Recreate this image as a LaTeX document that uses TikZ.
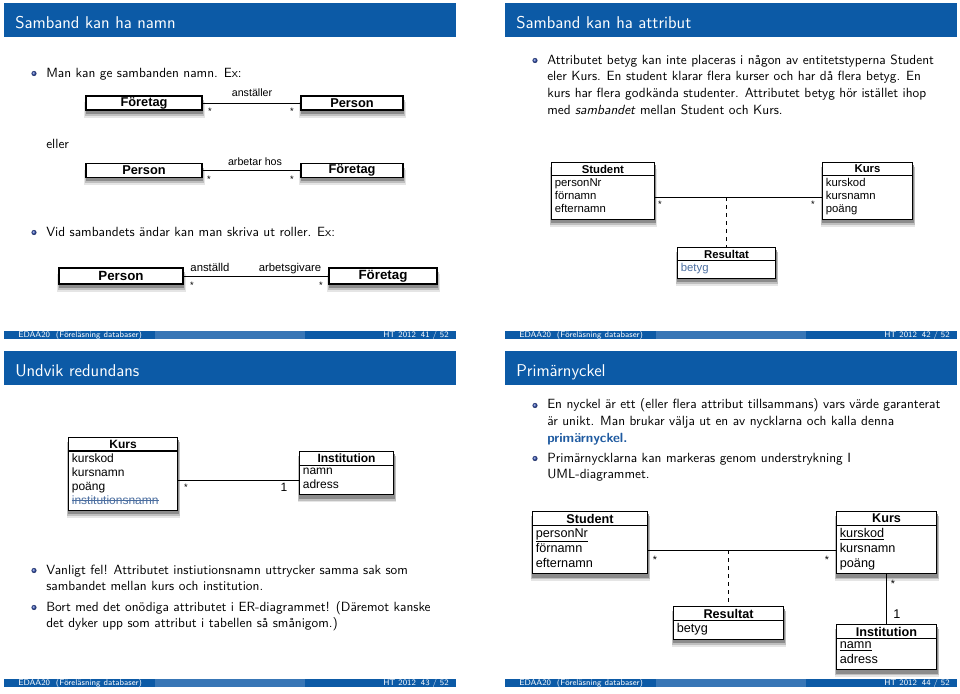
\documentclass[tikz,border=0pt]{standalone}
\usepackage{fontspec}
\renewcommand{\familydefault}{\sfdefault}
\newfontfamily\umlfont{Liberation Sans}
\usetikzlibrary{shapes.multipart}
\pgfdeclarelayer{bg}
\pgfsetlayers{bg,main}

\definecolor{titleblue}{RGB}{12,90,166}
\definecolor{footlight}{RGB}{56,118,182}
\definecolor{ballblue}{RGB}{40,70,170}
\definecolor{alertblue}{RGB}{30,90,160}
\definecolor{attrblue}{RGB}{75,110,160}

\tikzset{
  frametitle/.style={anchor=base west, text=white, inner sep=0pt, font=\fontsize{12.8}{15}\selectfont},
  foottext/.style={text=white, inner sep=0pt, font=\fontsize{6.2}{7}\selectfont},
  bodytext/.style={anchor=base west, inner sep=0pt, align=left, font=\fontsize{10}{12.5}\selectfont},
  itemball/.style={ball color=ballblue},
  entity/.style={draw, line width=0.95pt, fill=white, inner sep=1pt, minimum height=10.5pt,
    font=\umlfont\bfseries\fontsize{9.6}{11}\selectfont},
  classbox/.style={draw, line width=0.8pt, fill=white, anchor=north west,
    rectangle split, rectangle split parts=2, rectangle split part align={center,left},
    align=left, inner xsep=2.5pt, inner ysep=1.5pt},
  umlsmall/.style={font=\umlfont\fontsize{8.5}{10}\selectfont},
  umlmid/.style={font=\umlfont\fontsize{9}{10.5}\selectfont},
  umlbig/.style={font=\umlfont\fontsize{9.5}{11.3}\selectfont},
  assoc/.style={line width=0.7pt},
  rolelabel/.style={anchor=base, inner sep=0pt, font=\umlfont\fontsize{8}{9}\selectfont},
  mult/.style={anchor=base, inner sep=0pt, font=\umlfont\fontsize{7}{8}\selectfont},
}

% title bar, footline; #1 suffix for names, #2 title, #3 page
\newcommand{\slideframe}[3]{%
  \fill[titleblue] (4,3) rectangle (456,37);
  \node[frametitle] (title#1) at (15,28) {#2};
  \fill[titleblue] (4,331) rectangle (154.7,339);
  \fill[footlight] (154.7,331) rectangle (305.3,339);
  \fill[titleblue] (305.3,331) rectangle (456,339);
  \node[foottext, anchor=base west] (foot#1) at (18,337.5) {EDAA20\ \ (Föreläsning databaser)};
  \node[foottext, anchor=base west] (term#1) at (383,337.5) {HT 2012};
  \node[foottext, anchor=base east] (page#1) at (449,337.5) {#3 / 52};
}
% soft shadow under a box
\newcommand{\boxshadow}[1]{%
  \begin{pgfonlayer}{bg}
    \fill[black!10] ([xshift=-1pt,yshift=-5.2pt]#1.north west) rectangle ([xshift=1.8pt,yshift=-5.2pt]#1.south east);
    \fill[black!25] ([xshift=-0.4pt,yshift=-3.8pt]#1.north west) rectangle ([xshift=1.2pt,yshift=-3.8pt]#1.south east);
    \fill[black!45] ([xshift=0.2pt,yshift=-2.4pt]#1.north west) rectangle ([xshift=0.6pt,yshift=-2.4pt]#1.south east);
  \end{pgfonlayer}}
\newcommand{\rowgap}{\rule[-3pt]{0pt}{0pt}}
\newsavebox{\strikebox}
\newcommand{\strikeword}[1]{\sbox{\strikebox}{#1}\rlap{\rule[0.3em]{\wd\strikebox}{0.5pt}}\usebox{\strikebox}}

\begin{document}
\begin{tikzpicture}[x=0.75pt, y=-0.75pt]
\useasboundingbox (0,0) rectangle (960,693);

% 41
\begin{scope}
\slideframe{a}{Samband kan ha namn}{41}
\shade[itemball] (34,73.5) circle (1.9pt);
\node[bodytext] (namnA) at (46,77) {Man kan ge sambanden namn. Ex:};
\node[entity, minimum width=87pt] (foretagA) at (144,103) {Företag};
\node[entity, minimum width=76.5pt] (personA) at (352,103) {Person};
\draw[assoc] (foretagA) -- (personA);
\node[rolelabel] (anstA) at (252,96) {anställer};
\node[mult] (mA1) at (210,114.5) {*};
\node[mult] (mA2) at (292,114.5) {*};

\node[bodytext] (ellerA) at (46,148) {eller};
\node[entity, minimum width=87pt] (personB) at (144,170.5) {Person};
\node[entity, minimum width=76.5pt] (foretagB) at (352,170.5) {Företag};
\draw[assoc] (personB) -- (foretagB);
\node[rolelabel] (hosA) at (255,165) {arbetar hos};
\node[mult] (mA3) at (209,182.5) {*};
\node[mult] (mA4) at (292,182.5) {*};

\shade[itemball] (34,232.5) circle (1.9pt);
\node[bodytext] (rollA) at (46,236) {Vid sambandets ändar kan man skriva ut roller. Ex:};
\node[entity, minimum width=93pt, minimum height=12pt, font=\umlfont\bfseries\fontsize{10}{12}\selectfont] (personC) at (121,276) {Person};
\node[entity, minimum width=81pt, minimum height=12pt, font=\umlfont\bfseries\fontsize{10}{12}\selectfont] (foretagC) at (383,276) {Företag};
\draw[assoc] (personC) -- (foretagC);
\node[rolelabel, font=\umlfont\fontsize{8.5}{10}\selectfont] (anstC) at (210,271) {anställd};
\node[rolelabel, font=\umlfont\fontsize{8.5}{10}\selectfont] (givC) at (290,271) {arbetsgivare};
\node[mult] (mA5) at (192,288.5) {*};
\node[mult] (mA6) at (321,288.5) {*};
\boxshadow{foretagA}\boxshadow{personA}\boxshadow{personB}
\boxshadow{foretagB}\boxshadow{personC}\boxshadow{foretagC}
\end{scope}

% 42
\begin{scope}[shift={(501,0)}]
\slideframe{b}{Samband kan ha attribut}{42}
\shade[itemball] (34,60.5) circle (1.9pt);
\node[bodytext] (attrB) at (46,114) {Attributet betyg kan inte placeras i någon av entitetstyperna Student\\
  eler Kurs. En student klarar flera kurser och har då flera betyg. En\\
  kurs har flera godkända studenter. Attributet betyg hör istället ihop\\
  med \textit{sambandet} mellan Student och Kurs.};
\node[classbox, umlsmall, minimum width=77pt] (studB) at (50,162)
  {\textbf{Student}\nodepart{two}personNr\\förnamn\\efternamn\rowgap};
\node[classbox, umlsmall, minimum width=67.5pt] (kursB) at (321,162)
  {\textbf{Kurs}\nodepart{two}kurskod\\kursnamn\\poäng\rowgap};
\node[classbox, umlsmall, minimum width=73.5pt] (resB) at (176,247)
  {\textbf{Resultat}\nodepart{two}\textcolor{attrblue}{betyg}\rowgap};
\coordinate (relB) at (225,197);
\draw[assoc] (studB.east |- relB) -- (kursB.west |- relB);
\draw[assoc, dashed] (relB) -- (relB |- resB.north);
\node[mult] (mB1) at (159,207.5) {*};
\node[mult] (mB2) at (312,207.5) {*};
\boxshadow{studB}\boxshadow{kursB}\boxshadow{resB}
\end{scope}

% 43
\begin{scope}[shift={(0,348)}]
\slideframe{c}{Undvik redundans}{43}
\node[classbox, umlmid, minimum width=81.75pt] (kursC) at (68,89)
  {\textbf{Kurs}\nodepart{two}kurskod\\kursnamn\\poäng\\\textcolor{attrblue}{\strikeword{institutionsnamn}}\rowgap};
\node[classbox, umlmid, minimum width=70.5pt] (instC) at (299,103)
  {\textbf{Institution}\nodepart{two}namn\\adress\rowgap};
\coordinate (linkC) at (238,132);
\draw[assoc] (kursC.east |- linkC) -- (instC.west |- linkC);
\node[mult] (mC1) at (186,142.5) {*};
\node[mult, font=\umlfont\fontsize{9}{10}\selectfont] (mC2) at (284,143.5) {1};
\boxshadow{kursC}\boxshadow{instC}
\shade[itemball] (34,222.5) circle (1.9pt);
\node[bodytext] (felC) at (46,242.7) {Vanligt fel! Attributet instiutionsnamn uttrycker samma sak som\\
  sambandet mellan kurs och institution.};
\shade[itemball] (34,259.5) circle (1.9pt);
\node[bodytext] (bortC) at (46,279.7) {Bort med det onödiga attributet i ER-diagrammet! (Däremot kanske\\
  det dyker upp som attribut i tabellen så smånigom.)};
\end{scope}

% 44
\begin{scope}[shift={(501,348)}]
\slideframe{d}{Primärnyckel}{44}
\shade[itemball] (34,57.5) circle (1.9pt);
\node[bodytext] (nyckelD) at (46,94.3) {En nyckel är ett (eller flera attribut tillsammans) vars värde garanterat\\
  är unikt. Man brukar välja ut en av nycklarna och kalla denna\\
  \textcolor{alertblue}{\bfseries primärnyckel.}};
\shade[itemball] (34,110.5) circle (1.9pt);
\node[bodytext] (umlD) at (46,130.7) {Primärnycklarna kan markeras genom understrykning I\\
  UML-diagrammet.};
\node[classbox, umlbig, minimum width=86.25pt] (studD) at (31,163)
  {\textbf{Student}\nodepart{two}\underline{personNr}\\förnamn\\efternamn\rowgap};
\node[classbox, umlbig, minimum width=75pt] (kursD) at (335,163)
  {\textbf{Kurs}\nodepart{two}\underline{kurskod}\\kursnamn\\poäng\rowgap};
\node[classbox, umlbig, minimum width=82.5pt] (resD) at (172,258)
  {\textbf{Resultat}\nodepart{two}betyg\rowgap};
\node[classbox, umlbig, minimum width=75pt] (instD) at (335,276)
  {\textbf{Institution}\nodepart{two}\underline{namn}\\adress\rowgap};
\coordinate (relD) at (227,202);
\draw[assoc] (studD.east |- relD) -- (kursD.west |- relD);
\draw[assoc, dashed] (relD) -- (relD |- resD.north);
\draw[assoc] (kursD.south) -- (instD.north);
\node[mult, font=\umlfont\fontsize{8}{9}\selectfont] (mD1) at (154,215) {*};
\node[mult, font=\umlfont\fontsize{8}{9}\selectfont] (mD2) at (326,215) {*};
\node[mult, font=\umlfont\fontsize{8}{9}\selectfont] (mD3) at (392,239) {*};
\node[mult, font=\umlfont\fontsize{9.5}{11}\selectfont] (mD4) at (396,270.5) {1};
\boxshadow{studD}\boxshadow{kursD}\boxshadow{resD}\boxshadow{instD}
\end{scope}
\end{tikzpicture}
\end{document}
